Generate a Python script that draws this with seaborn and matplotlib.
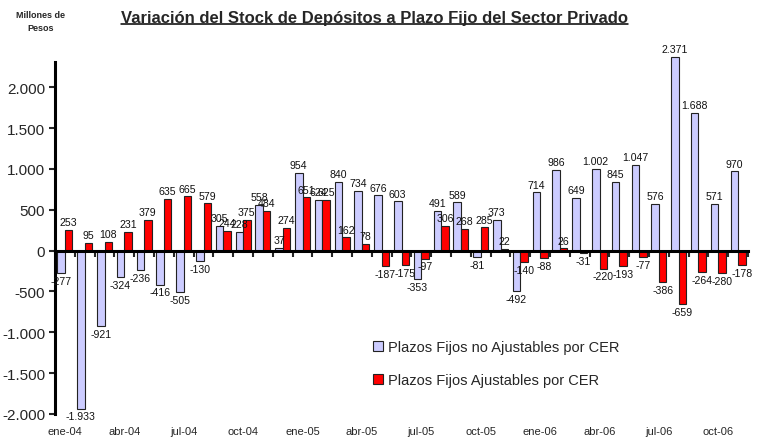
# Variacion del stock de depositos a plazo fijo - barras agrupadas por mes
import numpy as np
import pandas as pd
import matplotlib
matplotlib.use("Agg")
import matplotlib.pyplot as plt
from matplotlib.lines import Line2D
import seaborn as sns

# meses ene-04 .. nov-06
mes_abrev = ["ene", "feb", "mar", "abr", "may", "jun",
             "jul", "ago", "sep", "oct", "nov", "dic"]
meses = [f"{m}-{a}" for a in ["04", "05", "06"] for m in mes_abrev][:35]

no_ajustables = [-277, -1933, -921, -324, -236, -416, -505, -130, 305, 228,
                 558, 37, 954, 624, 840, 734, 676, 603, -353, 491,
                 589, -81, 373, -492, 714, 986, 649, 1002, 845, 1047,
                 576, 2371, 1688, 571, 970]
ajustables = [253, 95, 108, 231, 379, 635, 665, 579, 244, 375,
              484, 274, 651, 625, 162, 78, -187, -175, -97, 306,
              268, 285, 22, -140, -88, 26, -31, -220, -193, -77,
              -386, -659, -264, -280, -178]

serie_no = "Plazos Fijos no Ajustables por CER"
serie_aj = "Plazos Fijos Ajustables por CER"

yticks = [-2000, -1500, -1000, -500, 0, 500, 1000, 1500, 2000]


def miles(v):
    # separador de miles con punto
    return f"{int(v):,}".replace(",", ".")


def main():
    df = pd.DataFrame({
        "mes": meses * 2,
        "valor": no_ajustables + ajustables,
        "serie": [serie_no] * len(meses) + [serie_aj] * len(meses),
    })

    sns.set_style("white")
    plt.rcParams["font.family"] = ["Liberation Sans", "DejaVu Sans"]

    fig = plt.figure(figsize=(7.59, 4.39), dpi=100)
    ax = fig.add_axes([0.0725, 0.0547, 0.913, 0.802])

    sns.barplot(data=df, x="mes", y="valor", hue="serie", order=meses,
                hue_order=[serie_no, serie_aj],
                palette={serie_no: "#CCCCFF", serie_aj: "#FF0000"},
                saturation=1, width=0.76, edgecolor="#222222", linewidth=0.8,
                errorbar=None, ax=ax)

    for cont in ax.containers:
        for b in cont:
            b.set_clip_on(False)
        anns = ax.bar_label(cont, labels=[miles(b.get_height()) for b in cont],
                            padding=2, fontsize=7.6, color="#111111")
        for a in anns:
            a.set_annotation_clip(False)

    ax.set_ylim(-2000, 2310)
    ax.set_xlim(-0.5, len(meses) - 0.5)
    ax.set_yticks(yticks)
    ax.set_yticklabels([miles(v) for v in yticks], fontsize=11)
    ax.tick_params(axis="y", direction="out", length=4, width=1.5, pad=3, left=True)

    # eje x sobre el cero con marcas entre meses
    for s in ["top", "right"]:
        ax.spines[s].set_visible(False)
    ax.spines["left"].set_linewidth(2.2)
    ax.spines["left"].set_color("black")
    ax.spines["bottom"].set_position(("data", 0))
    ax.spines["bottom"].set_linewidth(2.2)
    ax.spines["bottom"].set_color("black")
    ax.set_xticks([])
    ax.set_xticks(np.arange(0.5, len(meses), 1), minor=True)
    ax.tick_params(axis="x", which="minor", direction="out", length=4,
                   width=1.5, bottom=True, labelbottom=False)
    ax.set_xlabel("")
    ax.set_ylabel("")

    # etiquetas de meses abajo, cada tres meses
    sec = ax.secondary_xaxis("bottom")
    sec.set_xticks(range(0, len(meses), 3), [meses[i] for i in range(0, len(meses), 3)],
                   fontsize=8)
    sec.tick_params(length=0, pad=9)
    sec.spines["bottom"].set_visible(False)

    leg = ax.legend(loc="upper left", bbox_to_anchor=(360 / 759, 1 - 328 / 439),
                    bbox_transform=fig.transFigure, frameon=False, fontsize=10.5,
                    handlelength=0.7, handleheight=0.7, handletextpad=0.3,
                    labelspacing=1.3)
    for h in leg.legend_handles:
        h.set_edgecolor("#222222")
        h.set_linewidth(0.8)

    fig.text(0.053, 0.965, "Millones de", ha="center", va="center",
             fontsize=6.5, fontweight="bold")
    fig.text(0.053, 0.935, "Pesos", ha="center", va="center",
             fontsize=6.5, fontweight="bold")

    titulo = fig.text(0.494, 0.957, "Variación del Stock de Depósitos a Plazo Fijo del Sector Privado",
                      ha="center", va="center", fontsize=12, fontweight="bold")

    # subrayado del titulo
    fig.canvas.draw()
    bb = titulo.get_window_extent().transformed(fig.transFigure.inverted())
    fig.add_artist(Line2D([bb.x0, bb.x1], [bb.y0 + 0.002, bb.y0 + 0.002],
                          transform=fig.transFigure, color="black", lw=1.1))

    fig.savefig("out.png", dpi=100)
    plt.close(fig)


if __name__ == "__main__":
    main()
